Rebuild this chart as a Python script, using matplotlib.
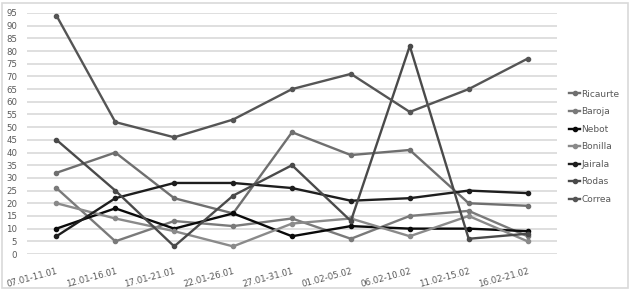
import matplotlib
matplotlib.use("Agg")
import matplotlib.pyplot as plt
from matplotlib.patches import Rectangle

# Data
periods = ["07.01-11.01", "12.01-16.01", "17.01-21.01", "22.01-26.01", "27.01-31.01",
           "01.02-05.02", "06.02-10.02", "11.02-15.02", "16.02-21.02"]
ricaurte = [32, 40, 22, 16, 48, 39, 41, 20, 19]
baroja = [26, 5, 13, 11, 14, 6, 15, 17, 7]
nebot = [10, 18, 10, 16, 7, 11, 10, 10, 9]
bonilla = [20, 14, 9, 3, 12, 14, 7, 15, 5]
jairala = [7, 22, 28, 28, 26, 21, 22, 25, 24]
rodas = [45, 25, 3, 23, 35, 13, 82, 6, 8]
correa = [94, 52, 46, 53, 65, 71, 56, 65, 77]

series = [
    ("Ricaurte", ricaurte, "#6f6f6f"),
    ("Baroja", baroja, "#7a7a7a"),
    ("Nebot", nebot, "#0a0a0a"),
    ("Bonilla", bonilla, "#8a8a8a"),
    ("Jairala", jairala, "#1e1e1e"),
    ("Rodas", rodas, "#4a4a4a"),
    ("Correa", correa, "#555555"),
]

fig = plt.figure(figsize=(6.32, 2.91), dpi=100)
ax = fig.add_axes([27 / 632, 1 - 254 / 291, 530 / 632, 241 / 291])

x = list(range(len(periods)))
for name, vals, col in series:
    ax.plot(x, vals, color=col, lw=1.7, marker="o", ms=3, label=name)

ax.set_xlim(-0.5, len(periods) - 0.5)
ax.set_ylim(0, 95)
ax.set_yticks(range(0, 96, 5))
ax.grid(axis="y", color="#d9d9d9", lw=1.2)
ax.set_axisbelow(True)
for s in ax.spines.values():
    s.set_visible(False)
ax.tick_params(length=0, labelsize=6.2, labelcolor="#595959")
ax.tick_params(axis="y", pad=7)
ax.tick_params(axis="x", pad=9)
ax.set_xticks(x)
ax.set_xticklabels(periods, rotation=15, ha="right", rotation_mode="anchor")

ax.legend(loc="upper left", bbox_to_anchor=(1.005, 0.72), frameon=False,
          fontsize=6.5, handlelength=1.3, handletextpad=0.1,
          labelspacing=0.95, labelcolor="#595959", borderaxespad=0.6)

fig.patches.append(Rectangle((2 / 632, 3 / 291), 626 / 632, 285 / 291,
                             transform=fig.transFigure, fill=False,
                             edgecolor="#d9d9d9", lw=1.2))

fig.savefig("out.png", dpi=100)
